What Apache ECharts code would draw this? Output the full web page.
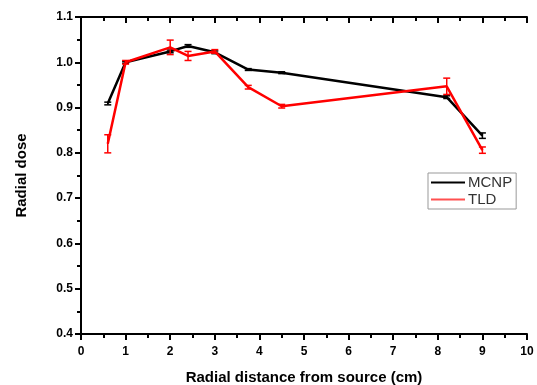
<!DOCTYPE html>
<html>
<head>
<meta charset="utf-8">
<script src="https://cdn.jsdelivr.net/npm/echarts@6/dist/echarts.min.js"></script>
<style>
  html, body { margin: 0; padding: 0; background: #fff; }
  #chart { width: 537px; height: 385px; }
</style>
</head>
<body>
<div id="chart"></div>
<script>
// radial distance (cm) and dose values
var mcnpX = [0.6, 1.0, 2.0, 2.4, 3.0, 3.75, 4.5, 8.2, 9.0];
var mcnpY = [0.909, 1.0, 1.024, 1.036, 1.022, 0.984, 0.977, 0.923, 0.838];
var mcnpErr = [0.003, 0.002, 0.003, 0.003, 0.003, 0.002, 0.002, 0.003, 0.006];

var tldX = [0.6, 1.0, 2.0, 2.4, 3.0, 3.75, 4.5, 8.2, 9.0];
var tldY = [0.82, 1.0, 1.033, 1.014, 1.024, 0.945, 0.903, 0.947, 0.806];
var tldErr = [0.02, 0.004, 0.016, 0.01, 0.004, 0.004, 0.004, 0.018, 0.007];

var xTicks = [0, 1, 2, 3, 4, 5, 6, 7, 8, 9, 10];
var yTicks = [0.4, 0.5, 0.6, 0.7, 0.8, 0.9, 1.0, 1.1];

function pairs(xs, ys) {
    var out = [];
    for (var i = 0; i < xs.length; i++) {
        out.push([xs[i], ys[i]]);
    }
    return out;
}

function errData(xs, ys, es) {
    var out = [];
    for (var i = 0; i < xs.length; i++) {
        out.push([xs[i], ys[i] - es[i], ys[i] + es[i]]);
    }
    return out;
}

// vertical error bar with caps, drawn through the axes' own scale
function errSeries(name, color, data) {
    return {
        name: name + '_err',
        type: 'custom',
        silent: true,
        z: 3,
        data: data,
        renderItem: function(params, api) {
            var lo = api.coord([api.value(0), api.value(1)]);
            var hi = api.coord([api.value(0), api.value(2)]);
            var w = 3.5;
            var st = { stroke: color, lineWidth: 1.5 };
            return {
                type: 'group',
                children: [
                    { type: 'line', shape: { x1: lo[0], y1: lo[1], x2: hi[0], y2: hi[1] }, style: st },
                    { type: 'line', shape: { x1: lo[0] - w, y1: lo[1], x2: lo[0] + w, y2: lo[1] }, style: st },
                    { type: 'line', shape: { x1: hi[0] - w, y1: hi[1], x2: hi[0] + w, y2: hi[1] }, style: st }
                ]
            };
        }
    };
}

var font = 'Liberation Sans, Arial, sans-serif';

var chart = echarts.init(document.getElementById('chart'));
var option = {
    animation: false,
    backgroundColor: '#fff',
    grid: { left: 81, right: 10, top: 17, bottom: 51, outerBoundsMode: 'none' },
    legend: {
        orient: 'vertical',
        left: 428,
        top: 173,
        padding: [2, 4, 2, 3],
        itemGap: 2,
        itemWidth: 34,
        itemHeight: 2,
        borderColor: '#999',
        borderWidth: 1,
        backgroundColor: '#fff',
        icon: 'rect',
        data: ['MCNP', 'TLD'],
        textStyle: { fontFamily: font, fontSize: 15, color: '#333', padding: [0, 0, 0, -2] }
    },
    xAxis: [{
        type: 'value',
        min: 0,
        max: 10,
        interval: 1,
        name: 'Radial distance from source (cm)',
        nameLocation: 'middle',
        nameGap: 36,
        nameTextStyle: { fontFamily: font, fontSize: 15, fontWeight: 'bold', color: '#000' },
        axisLine: { lineStyle: { color: '#000', width: 2 } },
        axisTick: { inside: false, length: 6, lineStyle: { color: '#000', width: 2 } },
        minorTick: { show: true, splitNumber: 2, length: 4, lineStyle: { color: '#000', width: 2 } },
        axisLabel: {
            fontFamily: font, fontSize: 12, fontWeight: 'bold', color: '#000', margin: 12,
            formatter: function(v) { return xTicks.indexOf(v) >= 0 ? String(v) : ''; }
        },
        splitLine: { show: false }
    }, {
        type: 'value',
        position: 'top',
        min: 0,
        max: 10,
        interval: 1,
        axisLine: { show: true, lineStyle: { color: '#000', width: 2 } },
        axisTick: { inside: true, length: 6, lineStyle: { color: '#000', width: 2 } },
        minorTick: { show: true, splitNumber: 2, length: 4, lineStyle: { color: '#000', width: 2 } },
        axisLabel: { show: false },
        splitLine: { show: false }
    }],
    yAxis: [{
        type: 'value',
        min: 0.4,
        max: 1.1,
        interval: 0.1,
        name: 'Radial dose',
        nameLocation: 'middle',
        nameGap: 52,
        nameTextStyle: { fontFamily: font, fontSize: 15, fontWeight: 'bold', color: '#000' },
        axisLine: { show: true, lineStyle: { color: '#000', width: 2 } },
        axisTick: { show: true, inside: false, length: 6, lineStyle: { color: '#000', width: 2 } },
        minorTick: { show: true, splitNumber: 2, length: 4, lineStyle: { color: '#000', width: 2 } },
        axisLabel: {
            fontFamily: font, fontSize: 12, fontWeight: 'bold', color: '#000', margin: 8,
            formatter: function(v) {
                var s = v.toFixed(1);
                return yTicks.indexOf(Number(s)) >= 0 ? s : '';
            }
        },
        splitLine: { show: false }
    }, {
        type: 'value',
        position: 'right',
        min: 0.4,
        max: 1.1,
        interval: 0.1,
        axisLine: { show: true, lineStyle: { color: '#000', width: 2 } },
        axisTick: { show: true, inside: true, length: 6, lineStyle: { color: '#000', width: 2 } },
        minorTick: { show: true, splitNumber: 2, length: 4, lineStyle: { color: '#000', width: 2 } },
        axisLabel: { show: false },
        splitLine: { show: false }
    }],
    series: [{
        name: 'MCNP',
        type: 'line',
        data: pairs(mcnpX, mcnpY),
        showSymbol: false,
        symbol: 'none',
        z: 2,
        itemStyle: { color: '#000' },
        lineStyle: { color: '#000', width: 2.5 }
    }, {
        name: 'TLD',
        type: 'line',
        data: pairs(tldX, tldY),
        showSymbol: false,
        symbol: 'none',
        z: 4,
        itemStyle: { color: '#ff5050' },
        lineStyle: { color: '#f00', width: 2.5 }
    },
    errSeries('MCNP', '#000', errData(mcnpX, mcnpY, mcnpErr)),
    errSeries('TLD', '#f00', errData(tldX, tldY, tldErr))
    ]
};
chart.setOption(option);
</script>
</body>
</html>
